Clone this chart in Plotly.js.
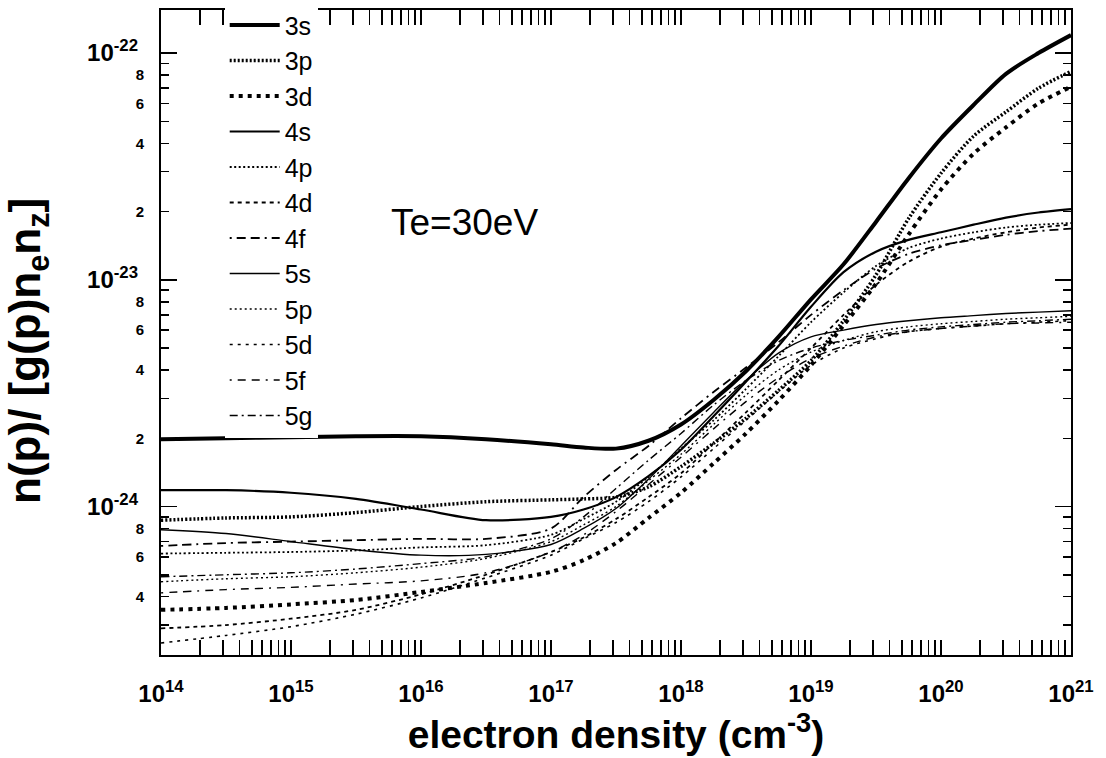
<!DOCTYPE html>
<html><head><meta charset="utf-8">
<script src="https://cdn.plot.ly/plotly-3.0.1.min.js"></script>
<style>html,body{margin:0;padding:0;background:#fff}</style>
</head><body><div id="chart" style="width:1106px;height:758px"></div>
<script>
// electron density (cm^-3)
const density = [1e14, 3.16e14, 1e15, 3.16e15, 1e16, 3.16e16, 1e17, 1.78e17, 3.16e17, 5.62e17, 1e18, 1.78e18, 3.16e18, 5.62e18, 1e19, 1.78e19, 3.16e19, 5.62e19, 1e20, 1.78e20, 3.16e20, 5.62e20, 1e21];

// n(p)/[g(p) ne nz]
const level3s = [1.98e-24, 2.00e-24, 2.02e-24, 2.04e-24, 2.04e-24, 1.98e-24, 1.88e-24, 1.82e-24, 1.80e-24, 1.95e-24, 2.30e-24, 2.95e-24, 3.95e-24, 5.6e-24, 8.2e-24, 1.17e-23, 1.8e-23, 2.8e-23, 4.2e-23, 5.9e-23, 8.1e-23, 1.0e-22, 1.2e-22];
const level3p = [8.7e-25, 8.9e-25, 9.0e-25, 9.4e-25, 1.00e-24, 1.05e-24, 1.07e-24, 1.08e-24, 1.10e-24, 1.22e-24, 1.50e-24, 1.90e-24, 2.45e-24, 3.25e-24, 4.4e-24, 6.6e-24, 1.05e-23, 1.86e-23, 2.95e-23, 4.3e-23, 5.5e-23, 7.0e-23, 8.3e-23];
const level3d = [3.5e-25, 3.57e-25, 3.7e-25, 3.87e-25, 4.2e-25, 4.6e-25, 5.15e-25, 5.8e-25, 6.9e-25, 8.9e-25, 1.15e-24, 1.55e-24, 2.1e-24, 2.93e-24, 4.2e-24, 6.3e-24, 9.6e-24, 1.58e-23, 2.5e-23, 3.6e-23, 4.7e-23, 6.0e-23, 7.1e-23];
const level4s = [1.18e-24, 1.18e-24, 1.15e-24, 1.08e-24, 9.7e-25, 8.7e-25, 9.0e-25, 9.7e-25, 1.10e-24, 1.36e-24, 1.78e-24, 2.5e-24, 3.55e-24, 5.1e-24, 7.6e-24, 1.08e-23, 1.33e-23, 1.5e-23, 1.62e-23, 1.75e-23, 1.88e-23, 1.98e-23, 2.05e-23];
const level4p = [6.2e-25, 6.25e-25, 6.3e-25, 6.4e-25, 6.6e-25, 6.75e-25, 7.5e-25, 8.8e-25, 1.05e-24, 1.35e-24, 1.8e-24, 2.4e-24, 3.3e-24, 4.6e-24, 6.5e-24, 8.8e-24, 1.15e-23, 1.38e-23, 1.52e-23, 1.62e-23, 1.7e-23, 1.75e-23, 1.78e-23];
const level4d = [2.9e-25, 3.0e-25, 3.2e-25, 3.5e-25, 4.1e-25, 5.0e-25, 6.3e-25, 7.3e-25, 8.8e-25, 1.1e-24, 1.4e-24, 1.9e-24, 2.6e-24, 3.6e-24, 5.0e-24, 7.0e-24, 9.5e-24, 1.2e-23, 1.4e-23, 1.52e-23, 1.62e-23, 1.7e-23, 1.75e-23];
const level4f = [6.7e-25, 6.9e-25, 7.0e-25, 7.1e-25, 7.2e-25, 7.2e-25, 8.0e-25, 1.1e-24, 1.45e-24, 1.85e-24, 2.45e-24, 3.2e-24, 4.1e-24, 5.3e-24, 7.0e-24, 9.0e-24, 1.12e-23, 1.3e-23, 1.42e-23, 1.5e-23, 1.58e-23, 1.64e-23, 1.68e-23];
const level5s = [7.9e-25, 7.6e-25, 7.0e-25, 6.45e-25, 6.1e-25, 6.15e-25, 6.8e-25, 8.0e-25, 9.8e-25, 1.32e-24, 1.85e-24, 2.6e-24, 3.6e-24, 4.75e-24, 5.6e-24, 6.0e-24, 6.35e-24, 6.6e-24, 6.8e-24, 6.95e-24, 7.1e-24, 7.2e-24, 7.3e-24];
const level5p = [4.66e-25, 4.8e-25, 4.9e-25, 5.1e-25, 5.4e-25, 5.9e-25, 7.0e-25, 8.3e-25, 1.0e-24, 1.3e-24, 1.7e-24, 2.3e-24, 3.1e-24, 4.0e-24, 4.8e-24, 5.4e-24, 5.9e-24, 6.2e-24, 6.4e-24, 6.55e-24, 6.7e-24, 6.8e-24, 6.9e-24];
const level5d = [2.5e-25, 2.7e-25, 2.95e-25, 3.35e-25, 3.95e-25, 4.85e-25, 6.1e-25, 7.2e-25, 8.5e-25, 1.05e-24, 1.35e-24, 1.8e-24, 2.4e-24, 3.2e-24, 4.2e-24, 5.0e-24, 5.5e-24, 5.9e-24, 6.1e-24, 6.25e-24, 6.4e-24, 6.5e-24, 6.6e-24];
const level5f = [4.16e-25, 4.3e-25, 4.4e-25, 4.55e-25, 4.7e-25, 5.1e-25, 6.3e-25, 7.5e-25, 9.5e-25, 1.25e-24, 1.65e-24, 2.2e-24, 2.9e-24, 3.7e-24, 4.5e-24, 5.1e-24, 5.6e-24, 5.9e-24, 6.1e-24, 6.25e-24, 6.4e-24, 6.45e-24, 6.5e-24];
const level5g = [4.9e-25, 5.0e-25, 5.1e-25, 5.3e-25, 5.6e-25, 6.0e-25, 7.2e-25, 9.0e-25, 1.2e-24, 1.6e-24, 2.1e-24, 2.8e-24, 3.6e-24, 4.4e-24, 5.0e-24, 5.4e-24, 5.7e-24, 6.0e-24, 6.2e-24, 6.35e-24, 6.5e-24, 6.6e-24, 6.7e-24];

const seriesNames = ['3s', '3p', '3d', '4s', '4p', '4d', '4f', '5s', '5p', '5d', '5f', '5g'];
const seriesValues = [level3s, level3p, level3d, level4s, level4p, level4d, level4f, level5s, level5p, level5d, level5f, level5g];

const xTickVals = [1e14, 1e15, 1e16, 1e17, 1e18, 1e19, 1e20, 1e21];
const xTickText = ['10<sup>14</sup>', '10<sup>15</sup>', '10<sup>16</sup>', '10<sup>17</sup>', '10<sup>18</sup>', '10<sup>19</sup>', '10<sup>20</sup>', '10<sup>21</sup>'];
const yTickVals = [1e-24, 1e-23, 1e-22];
const yTickText = ['10<sup>-24</sup>', '10<sup>-23</sup>', '10<sup>-22</sup>'];
const yLabelVals = [4e-25, 6e-25, 8e-25, 2e-24, 4e-24, 6e-24, 8e-24, 2e-23, 4e-23, 6e-23, 8e-23];
const yLabelText = ['4', '6', '8', '2', '4', '6', '8', '2', '4', '6', '8'];

// styles
const lineStyles = [
  {width: 4, dash: 'solid'},
  {width: 3.5, dash: '2px,2px'},
  {width: 4, dash: '4px,5px'},
  {width: 2.2, dash: 'solid'},
  {width: 1.8, dash: '2px,2.5px'},
  {width: 1.8, dash: '4px,4px'},
  {width: 1.8, dash: '2px,5px,9px,5px,9px,5px'},
  {width: 1.4, dash: 'solid'},
  {width: 1.4, dash: '2px,3px'},
  {width: 1.6, dash: '3px,5px'},
  {width: 1.4, dash: '2px,6px,8px,6px,8px,6px'},
  {width: 1.4, dash: '8px,4px,2px,4px'}
];

const traces = seriesNames.map((nm, i) => ({
  x: density, y: seriesValues[i], name: nm, type: 'scatter', mode: 'lines',
  line: {color: '#000', width: lineStyles[i].width, dash: lineStyles[i].dash, shape: 'spline', smoothing: 0.8}
}));
traces.push({x: [], y: [], yaxis: 'y2', xaxis: 'x', showlegend: false, hoverinfo: 'skip', mode: 'lines'});

const xMinor = [];
for (let e = 14; e < 21; e++) for (let k = 2; k <= 9; k++) xMinor.push(k * Math.pow(10, e));
const yMinor = [];
for (let e = -25; e <= -22; e++) for (let k = 2; k <= 9; k++) yMinor.push(k * Math.pow(10, e));

const FONT = '"Liberation Sans", Arial, sans-serif';
const yRange = [-24.655, -21.81];

const layout = {
  width: 1106, height: 758,
  margin: {l: 161, r: 35, t: 10, b: 103, autoexpand: false},
  paper_bgcolor: '#fff', plot_bgcolor: '#fff',
  showlegend: true,
  legend: {x: 0.07, y: 1.012, xanchor: 'left', yanchor: 'top', bgcolor: '#fff', borderwidth: 0,
           font: {family: FONT, size: 25, color: '#000'}, itemwidth: 50, tracegroupgap: 0, maxheight: 740},
  xaxis: {
    type: 'log', range: [14, 21], tickmode: 'array', tickvals: xTickVals, ticktext: xTickText,
    ticks: 'inside', ticklen: 15, tickwidth: 1.5, tickcolor: '#000',
    showline: true, linecolor: '#000', linewidth: 2, mirror: 'allticks', showgrid: false, zeroline: false,
    minor: {tickmode: 'array', tickvals: xMinor, ticks: 'inside', ticklen: 7, tickwidth: 1.5, tickcolor: '#000', showgrid: false},
    tickfont: {family: FONT, size: 24, color: '#000', weight: 'bold'}, ticklabelstandoff: 16,
    title: {text: 'electron density (cm<sup>-3</sup>)', font: {family: FONT, size: 39, color: '#000', weight: 'bold'}, standoff: 10}
  },
  yaxis: {
    type: 'log', range: yRange, tickmode: 'array', tickvals: yLabelVals, ticktext: yLabelText,
    ticks: 'inside', ticklen: 8, tickwidth: 1.5, tickcolor: '#000',
    showline: true, linecolor: '#000', linewidth: 2, mirror: 'allticks', showgrid: false, zeroline: false,
    minor: {tickmode: 'array', tickvals: yMinor, ticks: 'inside', ticklen: 8, tickwidth: 1.5, tickcolor: '#000', showgrid: false},
    tickfont: {family: FONT, size: 15, color: '#000', weight: 'bold'}, ticklabelstandoff: 12,
    title: {text: 'n(p)/ [g(p)n<sub>e</sub>n<sub>z</sub>]&nbsp;&nbsp;&nbsp;', font: {family: FONT, size: 44, color: '#000', weight: 'bold'}, standoff: 90}
  },
  yaxis2: {
    type: 'log', range: yRange, overlaying: 'y', side: 'left', tickmode: 'array', tickvals: yTickVals, ticktext: yTickText,
    ticks: 'inside', ticklen: 16, tickwidth: 1.5, tickcolor: '#000', showline: false, mirror: 'allticks',
    showgrid: false, zeroline: false,
    tickfont: {family: FONT, size: 24, color: '#000', weight: 'bold'}, ticklabelstandoff: 22
  },
  annotations: [{
    xref: 'paper', yref: 'paper', x: 0.333, y: 0.671, xanchor: 'center', yanchor: 'middle',
    text: 'Te=30eV', showarrow: false, font: {family: FONT, size: 37, color: '#000'}
  }]
};

Plotly.newPlot('chart', traces, layout, {displayModeBar: false, staticPlot: true});
</script></body></html>
